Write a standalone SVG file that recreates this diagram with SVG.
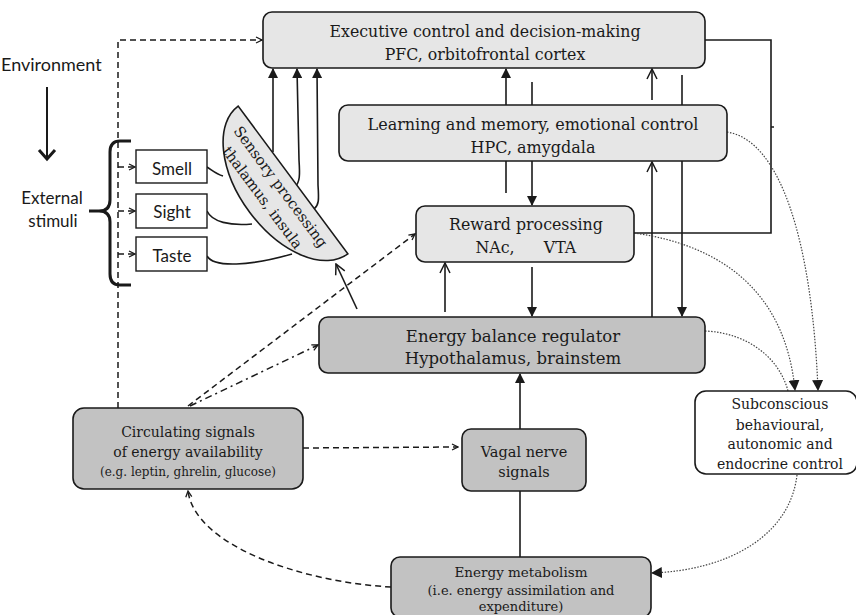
<svg xmlns="http://www.w3.org/2000/svg" width="856" height="615" viewBox="0 0 856 615">
<style>
.box{stroke:#1a1a1a;stroke-width:1.6}
.lt{fill:#e6e6e6}
.dk{fill:#c2c2c2}
.wh{fill:#ffffff}
.sq{fill:#ffffff;stroke:#1a1a1a;stroke-width:1.4}
.sf{font-family:"DejaVu Serif","Liberation Serif",serif;fill:#1a1a1a;text-anchor:middle}
.ss{font-family:Lato,"Open Sans","Liberation Sans",sans-serif;fill:#1a1a1a;text-anchor:middle}
.ln{fill:none;stroke:#1a1a1a;stroke-width:1.6}
.dash{fill:none;stroke:#1a1a1a;stroke-width:1.5;stroke-dasharray:6,4}
.dd{fill:none;stroke:#1a1a1a;stroke-width:1.5;stroke-dasharray:7,4,2,4}
.dot{fill:none;stroke:#444;stroke-width:1.2;stroke-dasharray:1.5,1.5}
</style>
<defs>
<marker id="tri" viewBox="0 0 10 10" refX="9" refY="5" markerWidth="10" markerHeight="10" markerUnits="userSpaceOnUse" orient="auto">
<path d="M0,0 L10,5 L0,10 Z" fill="#1a1a1a"/>
</marker>
<marker id="vee" viewBox="0 0 12 12" refX="11" refY="6" markerWidth="12" markerHeight="12" markerUnits="userSpaceOnUse" orient="auto">
<path d="M1,1 L11,6 L1,11" fill="none" stroke="#1a1a1a" stroke-width="1.5"/>
</marker>
<marker id="sv" viewBox="0 0 8 8" refX="7" refY="4" markerWidth="8" markerHeight="8" markerUnits="userSpaceOnUse" orient="auto">
<path d="M1,1 L7,4 L1,7" fill="none" stroke="#1a1a1a" stroke-width="1.3"/>
</marker>
<marker id="dtri" viewBox="0 0 10 10" refX="9" refY="5" markerWidth="11" markerHeight="11" markerUnits="userSpaceOnUse" orient="auto">
<path d="M0,0 L10,5 L0,10 Z" fill="#1a1a1a"/>
</marker>
</defs>

<!-- left annotations -->
<g id="environment">
<text class="ss" x="1" y="71" font-size="18" style="text-anchor:start">Environment</text>
<line x1="47" y1="87" x2="47" y2="158" stroke="#1a1a1a" stroke-width="2"/>
<polyline points="39,150 47,159 55,150" fill="none" stroke="#1a1a1a" stroke-width="3"/>
</g>
<g id="external-stimuli">
<text class="ss" x="52" y="204" font-size="17">External</text>
<text class="ss" x="53" y="227" font-size="17">stimuli</text>
<path d="M131,141 L120,141 Q110,141 110,152 L110,200 Q110,211 99,211 L89,211 M99,211 Q110,211 110,222 L110,274 Q110,285 120,285 L131,285" fill="none" stroke="#1a1a1a" stroke-width="3"/>
</g>

<!-- connectors -->
<g id="connectors">
<polyline class="dash" points="118,408 118,40 262,40" marker-end="url(#sv)"/>
<line class="dash" x1="118" y1="167" x2="135" y2="167" marker-end="url(#sv)"/>
<line class="dash" x1="118" y1="211" x2="135" y2="211" marker-end="url(#sv)"/>
<line class="dash" x1="118" y1="254" x2="135" y2="254" marker-end="url(#sv)"/>
<path class="ln" d="M207,167 C212,170 216,174 223,176"/>
<path class="ln" d="M207,211 C212,222 230,226 252,224"/>
<path class="ln" d="M207,256 C214,268 250,266 292,254"/>
<path class="ln" d="M273,152 L273,69" marker-end="url(#tri)"/>
<path class="ln" d="M295,187 C300,182 300,175 299,160 L297,69" marker-end="url(#tri)"/>
<path class="ln" d="M314,209 C319,205 319,200 318,185 L317,69" marker-end="url(#tri)"/>
<line class="ln" x1="357" y1="309" x2="336" y2="264" marker-end="url(#vee)"/>
<line class="ln" x1="506" y1="105" x2="506" y2="69" marker-end="url(#tri)"/>
<line class="ln" x1="532" y1="82" x2="532" y2="105"/>
<line class="ln" x1="506" y1="161" x2="506" y2="193"/>
<line class="ln" x1="532" y1="161" x2="532" y2="205" marker-end="url(#tri)"/>
<line class="ln" x1="445" y1="312" x2="445" y2="263" marker-end="url(#vee)"/>
<line class="ln" x1="532" y1="267" x2="532" y2="316" marker-end="url(#tri)"/>
<line class="ln" x1="652" y1="100" x2="652" y2="69" marker-end="url(#vee)"/>
<line class="ln" x1="652" y1="320" x2="652" y2="162" marker-end="url(#vee)"/>
<line class="ln" x1="682" y1="75" x2="682" y2="105"/>
<line class="ln" x1="682" y1="161" x2="682" y2="316" marker-end="url(#tri)"/>
<polyline class="ln" points="705,40 771,40 771,233 634,233"/>
<line x1="771" y1="127" x2="774" y2="127" stroke="#1a1a1a" stroke-width="1.5"/>
<line class="ln" x1="520" y1="429" x2="520" y2="374" marker-end="url(#tri)"/>
<line class="ln" x1="520" y1="557" x2="520" y2="491"/>
<line class="dash" x1="188" y1="406" x2="415" y2="234" marker-end="url(#sv)"/>
<line class="dd" x1="190" y1="406" x2="318" y2="345" marker-end="url(#sv)"/>
<line class="dash" x1="303" y1="448" x2="458" y2="447" marker-end="url(#sv)"/>
<path class="dash" d="M391,587 C300,582 195,545 188,491" marker-end="url(#sv)"/>
<path class="dot" d="M727,132 C780,140 812,240 818,390" marker-end="url(#dtri)"/>
<path class="dot" d="M634,233 C720,245 785,290 795,390" marker-end="url(#dtri)"/>
<path class="dot" d="M705,331 C750,333 780,360 788,391"/>
<path class="dot" d="M797,475 C790,535 730,570 652,573" marker-end="url(#dtri)"/>
</g>

<!-- nodes -->
<g id="executive">
<rect class="box lt" x="263" y="12" width="442" height="56" rx="9"/>
<text class="sf" x="485" y="37" font-size="15.8">Executive control and decision-making</text>
<text class="sf" x="485" y="60" font-size="15.8">PFC, orbitofrontal cortex</text>
</g>
<g id="learning">
<rect class="box lt" x="339" y="105" width="388" height="56" rx="9"/>
<text class="sf" x="533" y="130" font-size="16">Learning and memory, emotional control</text>
<text class="sf" x="533" y="153" font-size="16">HPC, amygdala</text>
</g>
<g id="reward">
<rect class="box lt" x="416" y="206" width="218" height="56" rx="9"/>
<text class="sf" x="526" y="230" font-size="15.8">Reward processing</text>
<text class="sf" x="495" y="253" font-size="15.8">NAc,</text>
<text class="sf" x="560" y="253" font-size="15.8">VTA</text>
</g>
<g id="energy-balance">
<rect class="box dk" x="319" y="317" width="386" height="56" rx="9"/>
<text class="sf" x="513" y="342" font-size="16.5">Energy balance regulator</text>
<text class="sf" x="513" y="364" font-size="16.5">Hypothalamus, brainstem</text>
</g>
<g id="vagal">
<rect class="box dk" x="462" y="429" width="124" height="62" rx="9"/>
<text class="sf" x="524" y="457" font-size="14.5">Vagal nerve</text>
<text class="sf" x="524" y="477" font-size="14.5">signals</text>
</g>
<g id="metabolism">
<rect class="box dk" x="391" y="557" width="260" height="60" rx="9"/>
<text class="sf" x="521" y="577" font-size="13.5">Energy metabolism</text>
<text class="sf" x="521" y="595" font-size="13">(i.e. energy assimilation and</text>
<text class="sf" x="521" y="611" font-size="13">expenditure)</text>
</g>
<g id="circulating">
<rect class="box dk" x="73" y="408" width="230" height="81" rx="11"/>
<text class="sf" x="188" y="437" font-size="14">Circulating signals</text>
<text class="sf" x="188" y="457" font-size="14">of energy availability</text>
<text class="sf" x="188" y="476" font-size="12">(e.g. leptin, ghrelin, glucose)</text>
</g>
<g id="subconscious">
<rect class="box wh" x="695" y="391" width="162" height="83" rx="11"/>
<text class="sf" x="780" y="409" font-size="14">Subconscious</text>
<text class="sf" x="780" y="430" font-size="14">behavioural,</text>
<text class="sf" x="780" y="449" font-size="14">autonomic and</text>
<text class="sf" x="780" y="469" font-size="14">endocrine control</text>
</g>
<g id="smell">
<rect class="sq" x="136" y="150" width="71" height="33"/>
<text class="ss" x="172" y="175" font-size="17">Smell</text>
</g>
<g id="sight">
<rect class="sq" x="136" y="194" width="71" height="34"/>
<text class="ss" x="172" y="218" font-size="17">Sight</text>
</g>
<g id="taste">
<rect class="sq" x="136" y="237" width="71" height="34"/>
<text class="ss" x="172" y="262" font-size="17">Taste</text>
</g>
<g id="sensory" transform="translate(293,180) rotate(53.4)">
<path d="M-92,0 A92,54 0 0 0 92,0 Z" fill="#e6e6e6" stroke="#1a1a1a" stroke-width="1.6"/>
<text class="sf" x="-2" y="19" font-size="14.8">Sensory processing</text>
<text class="sf" x="-4" y="40" font-size="14.8">thalamus, insula</text>
</g>
</svg>
